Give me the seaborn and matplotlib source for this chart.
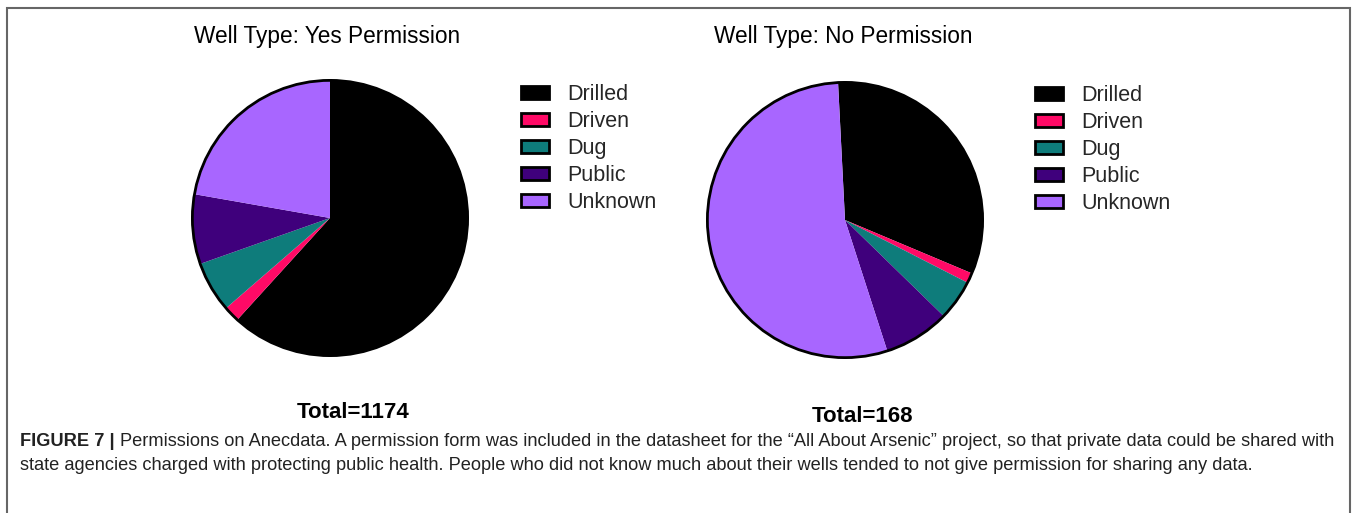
import matplotlib
matplotlib.use("Agg")
import matplotlib.pyplot as plt
from matplotlib import font_manager
from matplotlib.patches import Patch, Rectangle
import seaborn as sns

# well type categories and counts
well_types = ["Drilled", "Driven", "Dug", "Public", "Unknown"]
yes_counts = [725, 22, 70, 96, 261]
no_counts = [54, 2, 8, 13, 91]
yes_total = 1174
no_total = 168

colors = ["#000000", "#FF0A66", "#0E7C7B", "#3F007C", "#A866FF"]

caption_bold = "FIGURE 7 |"
caption_line1 = ("Permissions on Anecdata. A permission form was included in the datasheet for the "
                 "\u201cAll About Arsenic\u201d project, so that private data could be shared with")
caption_line2 = ("state agencies charged with protecting public health. People who did not know much "
                 "about their wells tended to not give permission for sharing any data.")

sns.set_theme(style="white")
plt.rcParams['font.family'] = ['Liberation Sans', 'DejaVu Sans']

names = {f.name for f in font_manager.fontManager.ttflist}
narrow = "Liberation Sans Narrow" if "Liberation Sans Narrow" in names else "Liberation Sans"

W, H = 1358, 513
fig = plt.figure(figsize=(W / 100, H / 100), dpi=100)


def px_axes(cx, cy, r):
    return fig.add_axes([(cx - r) / W, 1 - (cy + r) / H, 2 * r / W, 2 * r / H])


def draw_pie(cx, cy, r, counts, start, title, total, title_xy, total_xy, leg_xy):
    ax = px_axes(cx, cy, r)
    ax.pie(counts, colors=colors, startangle=start, counterclock=False,
           wedgeprops=dict(linewidth=0))
    ax.add_patch(plt.Circle((0, 0), 1, fill=False, edgecolor="black", linewidth=2))
    ax.set_xlim(-1.01, 1.01)
    ax.set_ylim(-1.01, 1.01)
    ax.set_axis_off()
    fig.text(title_xy[0] / W, 1 - title_xy[1] / H, title, ha="center", va="center",
             fontsize=16.3, color="black")
    fig.text(total_xy[0] / W, 1 - total_xy[1] / H, total, ha="center", va="center",
             fontsize=16, fontweight="bold", color="black")
    handles = [Patch(facecolor=c, edgecolor="black", linewidth=2) for c in colors]
    fig.legend(handles, well_types, loc="upper left",
               bbox_to_anchor=(leg_xy[0] / W, 1 - leg_xy[1] / H),
               frameon=False, fontsize=15.5, handlelength=1.3, handleheight=0.55,
               labelspacing=0.28, handletextpad=0.85, borderpad=0, borderaxespad=0)


draw_pie(330, 218, 139, yes_counts, 90, "Well Type: Yes Permission", f"Total={yes_total}",
         (327, 36), (353, 413), (521, 84))
draw_pie(845, 220, 139, no_counts, 92.9, "Well Type: No Permission", f"Total={no_total}",
         (843, 36), (862, 416), (1035, 85))

# border frame around the figure panel (open at the bottom)
fig.add_artist(Rectangle((7 / W, -0.1), (1350 - 7) / W, 1.1 - 8 / H,
                         transform=fig.transFigure, fill=False,
                         edgecolor="#666666", linewidth=1.5))

# caption
cap_size = 13.16
fig.canvas.draw()
r = fig.canvas.get_renderer()
tb = fig.text(20 / W, 1 - 441 / H, caption_bold, ha="left", va="center",
              fontsize=cap_size, fontweight="bold", family=narrow, color="#222222")
bb = tb.get_window_extent(renderer=r)
fig.text((bb.x1 + 5) / W, 1 - 441 / H, caption_line1, ha="left", va="center",
         fontsize=cap_size, family=narrow, color="#222222")
fig.text(20 / W, 1 - 466 / H, caption_line2, ha="left", va="center",
         fontsize=cap_size, family=narrow, color="#222222")

fig.savefig("out.png", dpi=100, facecolor="white")
